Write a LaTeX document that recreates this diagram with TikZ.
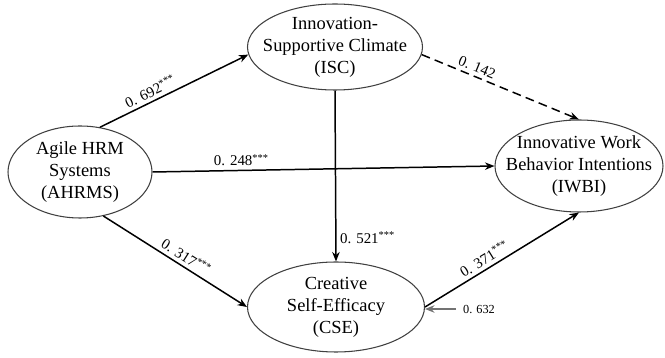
\documentclass[tikz,border=0pt]{standalone}
\usepackage{fontspec}
\setmainfont{Liberation Serif}
\usetikzlibrary{shapes, arrows.meta, positioning}
\tikzset{
  construct/.style={
    ellipse, draw=black!75, line width=0.6pt, fill=white,
    inner xsep=-4mm, inner ysep=0pt, align=center,
    font=\fontsize{10.5}{12.5}\selectfont,
  },
  path arrow/.style={
    -{Stealth[length=1.9mm, width=1.5mm]}, line width=0.85pt, draw=black,
  },
  weak arrow/.style={
    path arrow, dashed, dash pattern=on 5pt off 3pt,
  },
  err arrow/.style={
    -{Stealth[length=1.9mm, width=1.5mm]}, line width=0.7pt, draw=black!55,
  },
  coef/.style={
    font=\fontsize{8.5}{10}\selectfont, inner sep=2pt,
  },
  errcoef/.style={
    font=\fontsize{7}{8}\selectfont, inner sep=1pt,
  }
}

\begin{document}
\begin{tikzpicture}
  \useasboundingbox (0,0) rectangle (13.3,7.16);

  \node[construct, minimum width=2.88cm, minimum height=1.84cm] (ahrms) at (1.6, 3.72)
    {Agile HRM\\Systems\\(AHRMS)};
  \node[construct, minimum width=3.5cm, minimum height=1.72cm] (isc) at (6.7, 6.22)
    {Innovation-\\Supportive Climate\\(ISC)};
  \node[construct, minimum width=3.36cm, minimum height=1.84cm] (iwbi) at (11.58, 3.84)
    {Innovative Work\\Behavior Intentions\\(IWBI)};
  \node[construct, minimum width=3.54cm, minimum height=1.8cm] (cse) at (6.72, 1.02)
    {Creative\\Self-Efficacy\\(CSE)};

  % structural paths
  \draw[path arrow] (ahrms.66) -- (isc.185)
    node[coef, pos=0.37, above, sloped] {0. 692\textsuperscript{***}};
  \draw[weak arrow] (isc.-5) -- (iwbi.north)
    node[coef, pos=0.33, above, sloped] {0. 142};
  \draw[path arrow] (ahrms.east) -- (iwbi.west)
    node[coef, pos=0.26, above] {0. 248\textsuperscript{***}};
  \draw[path arrow] (isc.south) -- (cse.north)
    node[coef, pos=0.86, right] {0. 521\textsuperscript{***}};
  \draw[path arrow] (ahrms.-62) -- (cse.west)
    node[coef, pos=0.54, above, sloped] {0. 317\textsuperscript{***}};
  \draw[path arrow] (cse.east) -- (iwbi.south)
    node[coef, pos=0.42, above, sloped] {0. 371\textsuperscript{***}};

  % residual of CSE
  \coordinate (cse err) at (9.12, 0.98);
  \node[errcoef, anchor=west] (cse errval) at (9.22, 0.98) {0. 632};
  \draw[err arrow] (cse err) -- (cse.east |- cse err);

\end{tikzpicture}
\end{document}
